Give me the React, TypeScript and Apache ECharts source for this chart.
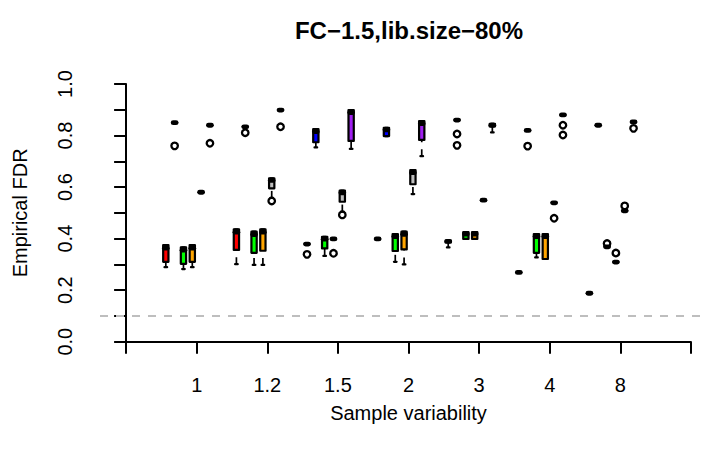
import React, { useEffect, useRef } from "react";
import * as echarts from "echarts";

// ---------- data ----------
const CATEGORIES = ["1", "1.2", "1.5", "2", "3", "4", "8"];
const X_TICK_LABELS = ["", ...CATEGORIES, ""];
const METHOD_COLORS = ["#FF0000", "#0000FF", "#00FF00", "#FFA500", "#BEBEBE", "#A020F0"];
const SLOTS_PER_GROUP = 8;
const FDR_TARGET = 0.1;
const TITLE = "FC\u22121.5,lib.size\u221280%";
const X_NAME = "Sample variability";
const Y_NAME = "Empirical FDR";

// box statistics per sample-variability level: [lower whisker, Q1, median, Q3, upper whisker]
const redStats = [
  [0.289, 0.31, 0.363, 0.375, 0.375],
  [0.301, 0.356, 0.425, 0.436, 0.436],
  [0.379, 0.379, 0.379, 0.379, 0.379],
  [0.399, 0.399, 0.399, 0.399, 0.399],
  [0.366, 0.385, 0.389, 0.392, 0.392],
  [0.269, 0.269, 0.269, 0.269, 0.269],
  [0.188, 0.188, 0.188, 0.188, 0.188],
];
const redOutliers = [[], [], [0.339], [], [], [], []];

const blueStats = [
  [0.85, 0.85, 0.85, 0.85, 0.85],
  [0.834, 0.834, 0.834, 0.834, 0.834],
  [0.754, 0.774, 0.815, 0.825, 0.825],
  [0.798, 0.798, 0.822, 0.83, 0.83],
  [0.86, 0.86, 0.86, 0.86, 0.86],
  [0.82, 0.82, 0.82, 0.82, 0.82],
  [0.84, 0.84, 0.84, 0.84, 0.84],
];
const blueOutliers = [[0.76], [0.811], [], [], [0.806, 0.762], [0.759], []];

const greenStats = [
  [0.282, 0.302, 0.355, 0.366, 0.366],
  [0.298, 0.345, 0.416, 0.427, 0.427],
  [0.333, 0.362, 0.398, 0.407, 0.407],
  [0.31, 0.352, 0.408, 0.418, 0.418],
  [0.399, 0.399, 0.418, 0.425, 0.425],
  [0.327, 0.345, 0.408, 0.418, 0.418],
  [0.368, 0.368, 0.368, 0.368, 0.368],
];
const greenOutliers = [[], [], [], [], [], [], [0.381]];

const orangeStats = [
  [0.289, 0.31, 0.363, 0.375, 0.375],
  [0.298, 0.353, 0.425, 0.436, 0.436],
  [0.399, 0.399, 0.399, 0.399, 0.399],
  [0.3, 0.358, 0.417, 0.427, 0.427],
  [0.399, 0.399, 0.418, 0.425, 0.425],
  [0.321, 0.321, 0.408, 0.418, 0.418],
  [0.309, 0.309, 0.309, 0.309, 0.309],
];
const orangeOutliers = [[], [], [0.343], [], [], [], [0.344]];

const grayStats = [
  [0.58, 0.58, 0.58, 0.58, 0.58],
  [0.558, 0.595, 0.626, 0.634, 0.634],
  [0.505, 0.543, 0.578, 0.586, 0.586],
  [0.573, 0.611, 0.656, 0.666, 0.666],
  [0.549, 0.549, 0.549, 0.549, 0.549],
  [0.539, 0.539, 0.539, 0.539, 0.539],
  [0.508, 0.508, 0.508, 0.508, 0.508],
];
const grayOutliers = [[], [0.546], [0.492], [], [], [0.479], [0.527]];

const purpleStats = [
  [0.84, 0.84, 0.84, 0.84, 0.84],
  [0.899, 0.899, 0.899, 0.899, 0.899],
  [0.748, 0.779, 0.889, 0.899, 0.899],
  [0.72, 0.783, 0.846, 0.856, 0.856],
  [0.812, 0.835, 0.84, 0.845, 0.845],
  [0.88, 0.88, 0.88, 0.88, 0.88],
  [0.853, 0.853, 0.853, 0.853, 0.853],
];
const purpleOutliers = [[0.77], [0.834], [], [], [], [0.84, 0.802], [0.828]];

const METHOD_STATS = [redStats, blueStats, greenStats, orangeStats, grayStats, purpleStats];
const METHOD_OUTLIERS = [redOutliers, blueOutliers, greenOutliers, orangeOutliers, grayOutliers, purpleOutliers];

// ---------- build series data ----------
const slotPos = (g: number, m: number) => g * SLOTS_PER_GROUP + m + 4.5;

const boxData: number[][] = [];
const outlierData: number[][] = [];
METHOD_STATS.forEach((stats, m) => {
  stats.forEach((s, g) => {
    boxData.push([slotPos(g, m), s[0], s[1], s[2], s[3], s[4], m]);
  });
});
METHOD_OUTLIERS.forEach((outs, m) => {
  outs.forEach((vals, g) => {
    vals.forEach((v) => outlierData.push([slotPos(g, m), v]));
  });
});

const FONT = '"Liberation Sans", Arial, Helvetica, sans-serif';

function renderBox(params: any, api: any) {
  const u = api.value(0);
  const lo = api.value(1);
  const q1 = api.value(2);
  const med = api.value(3);
  const q3 = api.value(4);
  const hi = api.value(5);
  const ci = api.value(6);
  const x = api.coord([u, lo])[0];
  const yLo = api.coord([u, lo])[1];
  const yQ1 = api.coord([u, q1])[1];
  const yMed = api.coord([u, med])[1];
  const yQ3 = api.coord([u, q3])[1];
  const yHi = api.coord([u, hi])[1];
  const unit = api.size([1, 0])[0];
  const hw = unit * 0.3;
  const capHw = hw * 0.5;
  const black = "#000";
  const children: any[] = [];
  if (yLo - yQ1 > 0.5) {
    children.push({
      type: "line",
      shape: { x1: x, y1: yLo, x2: x, y2: yQ1 },
      style: { stroke: black, lineWidth: 1.7, lineDash: [7, 7] },
    });
  }
  if (yQ3 - yHi > 0.5) {
    children.push({
      type: "line",
      shape: { x1: x, y1: yHi, x2: x, y2: yQ3 },
      style: { stroke: black, lineWidth: 1.7, lineDash: [7, 7] },
    });
  }
  children.push({
    type: "line",
    shape: { x1: x - capHw, y1: yLo, x2: x + capHw, y2: yLo },
    style: { stroke: black, lineWidth: 2.2, lineCap: "round" },
  });
  children.push({
    type: "line",
    shape: { x1: x - capHw, y1: yHi, x2: x + capHw, y2: yHi },
    style: { stroke: black, lineWidth: 2.2, lineCap: "round" },
  });
  children.push({
    type: "rect",
    shape: { x: x - hw, y: yQ3, width: 2 * hw, height: Math.max(0, yQ1 - yQ3) },
    style: { fill: METHOD_COLORS[ci], stroke: black, lineWidth: 2.2, lineJoin: "round" },
  });
  children.push({
    type: "line",
    shape: { x1: x - hw + 1.2, y1: yMed, x2: x + hw - 1.2, y2: yMed },
    style: { stroke: black, lineWidth: 4.8, lineCap: "round" },
  });
  return { type: "group", children };
}

export default function App() {
  const ref = useRef<HTMLDivElement>(null);
  useEffect(() => {
    if (!ref.current) return;
    const chart = echarts.init(ref.current, undefined, { renderer: "svg" });
    const axisLineStyle = { color: "#000", width: 2 };
    const option: any = {
      animation: false,
      backgroundColor: "#ffffff",
      textStyle: { fontFamily: FONT },
      graphic: [
        {
          type: "text",
          x: 409,
          y: 30,
          style: {
            text: TITLE,
            font: `bold 24px ${FONT}`,
            fill: "#000",
            align: "center",
            verticalAlign: "middle",
          },
        },
      ],
      grid: [
        { left: 126.1, right: 12.1, top: 84, bottom: 113.3 },
        { left: 100, right: 0, top: 84, bottom: 113.3 },
      ],
      xAxis: [
        {
          gridIndex: 0,
          type: "value",
          min: 0,
          max: 64,
          interval: 8,
          offset: 11,
          axisLine: { show: true, lineStyle: axisLineStyle },
          axisTick: { show: true, length: 12, lineStyle: axisLineStyle },
          axisLabel: {
            show: true,
            fontSize: 20,
            color: "#000",
            fontFamily: FONT,
            margin: 22,
            showMinLabel: true,
            showMaxLabel: true,
            formatter: (v: number) => X_TICK_LABELS[Math.round(v / SLOTS_PER_GROUP)] ?? "",
          },
          splitLine: { show: false },
          name: X_NAME,
          nameLocation: "middle",
          nameGap: 50,
          nameTextStyle: { fontSize: 20, color: "#000", fontFamily: FONT },
        },
        { gridIndex: 1, type: "value", min: 0, max: 1, show: false },
      ],
      yAxis: [
        {
          gridIndex: 0,
          type: "value",
          min: 0,
          max: 1,
          interval: 0.1,
          offset: 26.1,
          axisLine: { show: true, lineStyle: axisLineStyle },
          axisTick: { show: true, length: 12, lineStyle: axisLineStyle },
          axisLabel: {
            show: true,
            rotate: 90,
            fontSize: 20,
            color: "#000",
            fontFamily: FONT,
            margin: 25,
            showMinLabel: true,
            showMaxLabel: true,
            formatter: (v: number) => {
              const t = Math.round(v * 10);
              return t % 2 === 0 ? (t / 10).toFixed(1) : "";
            },
          },
          splitLine: { show: false },
          name: Y_NAME,
          nameLocation: "middle",
          nameGap: 70,
          nameTextStyle: { fontSize: 20, color: "#000", fontFamily: FONT },
        },
        { gridIndex: 1, type: "value", min: 0, max: 1, show: false },
      ],
      series: [
        {
          type: "line",
          xAxisIndex: 1,
          yAxisIndex: 1,
          data: [],
          silent: true,
          markLine: {
            silent: true,
            symbol: "none",
            label: { show: false },
            lineStyle: { color: "#BEBEBE", type: [8, 8], width: 2 },
            data: [{ yAxis: FDR_TARGET }],
          },
        },
        {
          type: "custom",
          xAxisIndex: 0,
          yAxisIndex: 0,
          renderItem: renderBox,
          data: boxData,
          encode: { x: 0, y: [1, 2, 3, 4, 5] },
          z: 2,
        },
        {
          type: "scatter",
          xAxisIndex: 0,
          yAxisIndex: 0,
          data: outlierData,
          symbol: "circle",
          symbolSize: 6.5,
          itemStyle: { color: "transparent", borderColor: "#000", borderWidth: 2.3, opacity: 1 },
          z: 3,
        },
      ],
    };
    chart.setOption(option);
    return () => chart.dispose();
  }, []);
  return (
    <div
      ref={ref}
      style={{ position: "fixed", left: 0, top: 0, width: 703, height: 455, background: "#fff" }}
    />
  );
}
